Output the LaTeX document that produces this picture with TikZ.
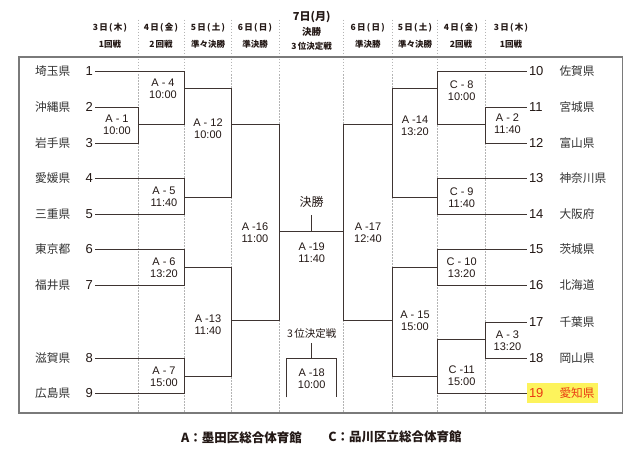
\documentclass[tikz,border=0pt]{standalone}
\usepackage{fontspec}
\setmainfont{Liberation Sans}
\newfontfamily\jp{Noto Sans CJK JP}
\definecolor{linec}{HTML}{3E3431}
\definecolor{framec}{HTML}{7A7A7A}
\definecolor{guidec}{HTML}{B4B4B4}
\definecolor{txt}{HTML}{231815}
\definecolor{teamc}{HTML}{333333}
\definecolor{hiy}{HTML}{FDF35C}
\definecolor{hir}{HTML}{EA3A12}
\newcommand{\hsp}{\hspace{1.3pt}}
\tikzset{
  br/.style={draw=linec, line width=0.8pt},
  lbl/.style={font=\fontsize{11}{12}\selectfont, align=center, text=txt, inner sep=0pt},
  num/.style={font=\fontsize{13}{13}\selectfont, text=txt, inner sep=0pt},
  team/.style={font=\jp\fontsize{11.7}{12}\selectfont, text=teamc, inner sep=0pt, anchor=west},
  hdr/.style={font=\jp\bfseries\fontsize{8.5}{9}\selectfont, text=txt, inner sep=0pt},
  guide/.style={draw=guidec, dash pattern=on 1.5pt off 1.5pt, line width=0.6pt},
  legend/.style={font=\jp\bfseries\fontsize{12.5}{13}\selectfont, text=txt, inner sep=0pt},
}
\def\La{95}\def\Lb{138.3}\def\Lc{184.3}\def\Ld{231.7}\def\Le{279.3}
\def\Ra{526.7}\def\Rb{485.7}\def\Rc{437.7}\def\Rd{392.3}\def\Re{343.3}
\begin{document}
\begin{tikzpicture}[x=1pt,y=-1pt]
\useasboundingbox (0,0) rectangle (640,460);
\fill[white] (0,0) rectangle (640,460);
% guide lines
\foreach \gx in {\Lb,\Lc,\Ld,\Le,\Re,\Rd,\Rc,\Rb}
  \draw[guide] (\gx,20) -- (\gx,413);
% frame
\draw[framec, line width=1.3pt] (19,57) rectangle (622.7,413);
\draw[framec, line width=2pt] (19,57) -- (622.7,57);
% headers
\node[hdr] (h1a) at (110,28) {3\hsp 日\hsp(\hsp 木\hsp)};
\node[hdr] (h1b) at (110,44) {1回戦};
\node[hdr] (h2a) at (161,28) {4\hsp 日\hsp(\hsp 金\hsp)};
\node[hdr] (h2b) at (161,44) {2\hsp 回戦};
\node[hdr] (h3a) at (208,28) {5\hsp 日\hsp(\hsp 土\hsp)};
\node[hdr] (h3b) at (208,44) {準々決勝};
\node[hdr] (h4a) at (255,28) {6\hsp 日\hsp(\hsp 日\hsp)};
\node[hdr] (h4b) at (255,44) {準決勝};
\node[hdr, font=\jp\bfseries\fontsize{11}{12}\selectfont] (hc1) at (311.7,17) {7日(月)};
\node[hdr, font=\jp\bfseries\fontsize{9.5}{10}\selectfont] (hc2) at (311.7,32) {決勝};
\node[hdr] (hc3) at (311.7,46) {3\hsp 位決定戦};
\node[hdr] (r4a) at (367.8,28) {6\hsp 日\hsp(\hsp 日\hsp)};
\node[hdr] (r4b) at (367.8,44) {準決勝};
\node[hdr] (r3a) at (415,28) {5\hsp 日\hsp(\hsp 土\hsp)};
\node[hdr] (r3b) at (415,44) {準々決勝};
\node[hdr] (r2a) at (461,28) {4\hsp 日\hsp(\hsp 金\hsp)};
\node[hdr] (r2b) at (461,44) {2回戦};
\node[hdr] (r1a) at (511,28) {3\hsp 日\hsp(\hsp 木\hsp)};
\node[hdr] (r1b) at (511,44) {1回戦};
% highlight
\fill[hiy] (527.3,383.3) rectangle (598.3,402.7);
% teams left
\foreach \n/\name/\yy in {1/埼玉県/71, 2/沖縄県/107, 3/岩手県/143, 4/愛媛県/178.5, 5/三重県/214.5, 6/東京都/249.5, 7/福井県/285, 8/滋賀県/358, 9/広島県/393}{
  \node[team] (tl\n) at (35,\yy) {\name};
  \node[num, anchor=east] (nl\n) at (93,\yy) {\n};
}
% teams right
\foreach \n/\name/\yy in {10/佐賀県/71, 11/宮城県/107, 12/富山県/143, 13/神奈川県/178.5, 14/大阪府/214.5, 15/茨城県/249.5, 16/北海道/285, 17/千葉県/322, 18/岡山県/358}{
  \node[team] (tr\n) at (559.3,\yy) {\name};
  \node[num, anchor=west] (nr\n) at (528.8,\yy) {\n};
}
\node[team, text=hir] (tr19) at (559.3,393) {愛知県};
\node[num, anchor=west, text=hir] (nr19) at (528.8,393) {19};
% left bracket
\draw[br] (\La,71) -- (\Lc,71) -- (\Lc,124) -- (\Lb,124);
\draw[br] (\La,107) -- (\Lb,107) -- (\Lb,143) -- (\La,143);
\draw[br] (\La,178.5) -- (\Lc,178.5) -- (\Lc,214.5) -- (\La,214.5);
\draw[br] (\La,249.5) -- (\Lc,249.5) -- (\Lc,285) -- (\La,285);
\draw[br] (\La,358) -- (\Lc,358) -- (\Lc,393) -- (\La,393);
\draw[br] (\Lc,88) -- (\Ld,88) -- (\Ld,197.5) -- (\Lc,197.5);
\draw[br] (\Lc,267) -- (\Ld,267) -- (\Ld,376) -- (\Lc,376);
\draw[br] (\Ld,124) -- (\Le,124) -- (\Le,320) -- (\Ld,320);
% right bracket
\draw[br] (\Ra,71) -- (\Rc,71) -- (\Rc,124) -- (\Rb,124);
\draw[br] (\Ra,107) -- (\Rb,107) -- (\Rb,143) -- (\Ra,143);
\draw[br] (\Ra,178.5) -- (\Rc,178.5) -- (\Rc,214.5) -- (\Ra,214.5);
\draw[br] (\Ra,249.5) -- (\Rc,249.5) -- (\Rc,285) -- (\Ra,285);
\draw[br] (\Ra,322) -- (\Rb,322) -- (\Rb,358) -- (\Ra,358);
\draw[br] (\Rb,339) -- (\Rc,339) -- (\Rc,393) -- (\Ra,393);
\draw[br] (\Rc,88) -- (\Rd,88) -- (\Rd,197.5) -- (\Rc,197.5);
\draw[br] (\Rc,267) -- (\Rd,267) -- (\Rd,376) -- (\Rc,376);
\draw[br] (\Rd,124) -- (\Re,124) -- (\Re,320) -- (\Rd,320);
% final
\draw[br] (\Le,231.7) -- (\Re,231.7);
\draw[br] (311.7,215) -- (311.7,231.7);
\node[hdr, font=\jp\fontsize{12}{12}\selectfont] (fin) at (311.7,201.7) {決勝};
\node[hdr, font=\jp\fontsize{10.5}{11}\selectfont] (third) at (311.7,333.3) {3\hsp 位決定戦};
\draw[br] (311.7,343.3) -- (311.7,358.3);
\draw[br] (286.7,397.3) -- (286.7,358.3) -- (336,358.3) -- (336,397.3);
% match labels
\node[lbl] (m1) at (117,124.5) {A - 1\\10:00};
\node[lbl] (m4) at (163,88.5) {A - 4\\10:00};
\node[lbl] (m5) at (164,196.7) {A - 5\\11:40};
\node[lbl] (m6) at (164,268) {A - 6\\13:20};
\node[lbl] (m7) at (164,376.3) {A - 7\\15:00};
\node[lbl] (m12) at (208,128.5) {A - 12\\10:00};
\node[lbl] (m13) at (208,324.3) {A -13\\11:40};
\node[lbl] (m16) at (255,233) {A -16\\11:00};
\node[lbl] (m19) at (311.7,253) {A -19\\11:40};
\node[lbl] (m18) at (311.7,378.8) {A -18\\10:00};
\node[lbl] (m17) at (368,233) {A -17\\12:40};
\node[lbl] (m14) at (415,126) {A -14\\13:20};
\node[lbl] (m15) at (415,321) {A - 15\\15:00};
\node[lbl] (m8) at (461.7,91) {C - 8\\10:00};
\node[lbl] (m9) at (461.7,197.5) {C - 9\\11:40};
\node[lbl] (m10) at (461.7,268) {C - 10\\13:20};
\node[lbl] (m11) at (461.7,376) {C -11\\15:00};
\node[lbl] (m2) at (507.5,124) {A - 2\\11:40};
\node[lbl] (m3) at (507.5,340.5) {A - 3\\13:20};
% legend
\node[legend] (legA) at (241.5,437.3) {A：墨田区総合体育館};
\node[legend] (legC) at (395,437.3) {C：品川区立総合体育館};
\end{tikzpicture}
\end{document}
